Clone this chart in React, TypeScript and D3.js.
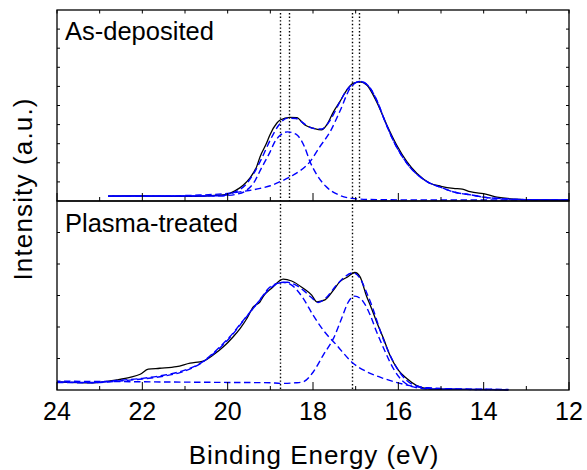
import React, { useEffect, useRef } from 'react';
import * as d3 from 'd3';

// Binding energy (eV) axis labels
const xTickLabels = [24, 22, 20, 18, 16, 14, 12];

// Panel labels
const panelTop = 'As-deposited';
const panelBottom = 'Plasma-treated';

// Vertical dotted reference lines (eV)
const topMarkers = [18.77, 18.56, 17.09, 16.92];
const bottomMarkers = [18.77, 17.09];

// ---- As-deposited (upper panel), [energy eV, intensity a.u.] ----
const topMeasured: [number, number][] = [
  [22.8, 0.26], [22.3, 0.27], [21.8, 0.26], [21.3, 0.24], [20.96, 0.24], [20.6, 0.25],
  [20.3, 0.29], [20.02, 0.35], [19.83, 0.53], [19.63, 0.84], [19.48, 1.2], [19.32, 1.8],
  [19.24, 2.32], [19.09, 3.02], [19.01, 3.46], [18.85, 4.07], [18.77, 4.24], [18.54, 4.38],
  [18.38, 4.36], [18.19, 3.98], [17.99, 3.81], [17.8, 3.72], [17.68, 3.98], [17.52, 4.67],
  [17.37, 5.2], [17.21, 5.81], [17.06, 6.16], [16.9, 6.24], [16.74, 6.07], [16.51, 5.2],
  [16.27, 3.98], [16.04, 2.93], [15.8, 2.06], [15.57, 1.45], [15.26, 0.93], [15.0, 0.77],
  [14.71, 0.66], [14.5, 0.62], [14.32, 0.49], [13.93, 0.35], [13.69, 0.2], [13.15, 0.09],
  [12.5, 0.06], [12.0, 0.05],
];
const topEnvelope: [number, number][] = [
  [22.8, 0.26], [21.0, 0.26], [20.3, 0.27], [20.0, 0.33], [19.8, 0.5], [19.6, 0.8],
  [19.4, 1.4], [19.2, 2.24], [19.0, 3.2], [18.8, 3.98], [18.6, 4.34], [18.4, 4.32],
  [18.2, 4.04], [18.0, 3.8], [17.8, 3.77], [17.6, 4.22], [17.4, 5.06], [17.2, 5.84],
  [17.0, 6.2], [16.9, 6.26], [16.7, 6.02], [16.5, 5.24], [16.3, 4.1], [16.1, 3.08],
  [15.9, 2.3], [15.7, 1.7], [15.5, 1.28], [15.3, 0.98], [15.0, 0.71], [14.7, 0.47],
  [14.3, 0.32], [14.0, 0.2], [13.5, 0.11], [13.0, 0.07], [12.0, 0.05],
];
const topPeakA: [number, number][] = [
  [22.8, 0.26], [21.0, 0.26], [20.3, 0.26], [20.0, 0.29], [19.8, 0.35], [19.6, 0.5],
  [19.4, 0.92], [19.2, 1.76], [19.0, 2.6], [18.9, 3.08], [18.77, 3.44], [18.6, 3.62],
  [18.4, 3.5], [18.2, 2.84], [18.07, 2.06], [17.9, 1.34], [17.7, 0.77], [17.4, 0.32],
  [17.1, 0.14], [16.7, 0.08], [16.0, 0.06], [12.0, 0.05],
];
const topPeakB: [number, number][] = [
  [22.8, 0.24], [21.5, 0.26], [20.8, 0.3], [20.0, 0.4], [19.5, 0.55], [19.24, 0.66],
  [19.0, 0.8], [18.77, 1.01], [18.46, 1.36], [18.07, 2.06], [17.84, 2.84], [17.6, 3.62],
  [17.37, 4.7], [17.13, 5.9], [16.9, 6.26], [16.7, 6.02], [16.5, 5.24], [16.3, 4.1],
  [16.1, 3.08], [15.9, 2.3], [15.7, 1.7], [15.5, 1.28], [15.3, 0.98], [15.0, 0.71],
  [14.7, 0.47], [14.3, 0.32], [14.0, 0.2], [13.5, 0.11], [13.0, 0.07], [12.0, 0.05],
];

// ---- Plasma-treated (lower panel), [energy eV, intensity a.u.] ----
const bottomMeasured: [number, number][] = [
  [24.0, 0.26], [23.15, 0.23], [22.6, 0.32], [22.29, 0.4], [22.05, 0.5], [21.86, 0.66],
  [21.59, 0.69], [21.2, 0.74], [20.88, 0.85], [20.57, 0.92], [20.34, 1.11], [20.1, 1.37],
  [19.87, 1.69], [19.71, 1.95], [19.55, 2.27], [19.4, 2.64], [19.24, 2.8], [19.16, 2.98],
  [18.97, 3.23], [18.7, 3.52], [18.5, 3.46], [18.23, 3.23], [18.03, 3.01], [17.91, 2.8],
  [17.72, 2.86], [17.52, 3.17], [17.37, 3.44], [17.2, 3.58], [17.02, 3.73], [16.9, 3.6],
  [16.74, 2.96], [16.66, 2.7], [16.51, 2.17], [16.35, 1.64], [16.2, 1.11], [16.0, 0.63],
  [15.81, 0.37], [15.57, 0.14], [15.26, 0.03], [14.4, 0.02], [13.42, 0.0],
];
const bottomEnvelope: [number, number][] = [
  [24.0, 0.26], [23.15, 0.24], [22.6, 0.3], [22.0, 0.37], [21.5, 0.47], [21.1, 0.59],
  [20.57, 0.91], [20.26, 1.27], [19.95, 1.69], [19.63, 2.22], [19.28, 2.8], [19.0, 3.28],
  [18.77, 3.4], [18.6, 3.42], [18.4, 3.33], [18.23, 3.17], [18.05, 2.95], [17.88, 2.78],
  [17.7, 2.92], [17.45, 3.33], [17.25, 3.6], [17.06, 3.72], [16.9, 3.55], [16.74, 3.08],
  [16.6, 2.6], [16.43, 1.9], [16.12, 0.9], [15.81, 0.31], [15.5, 0.1], [15.26, 0.05],
  [14.4, 0.02], [13.42, 0.01],
];
const bottomPeakA: [number, number][] = [
  [24.0, 0.24], [23.2, 0.23], [22.6, 0.28], [22.0, 0.35], [21.5, 0.44], [21.1, 0.56],
  [20.6, 0.87], [20.26, 1.24], [19.95, 1.66], [19.63, 2.2], [19.3, 2.76], [19.0, 3.23],
  [18.7, 3.42], [18.5, 3.33], [18.23, 2.91], [18.0, 2.38], [17.76, 1.9], [17.45, 1.43],
  [17.06, 0.85], [16.74, 0.58], [16.35, 0.37], [15.96, 0.21], [15.73, 0.14], [15.3, 0.07],
  [14.4, 0.03], [13.42, 0.02],
];
const bottomPeakB: [number, number][] = [
  [24.0, 0.28], [22.0, 0.26], [20.0, 0.24], [19.0, 0.23], [18.77, 0.21], [18.4, 0.23],
  [18.23, 0.26], [17.99, 0.58], [17.76, 1.11], [17.52, 1.64], [17.33, 2.27], [17.17, 2.8],
  [17.02, 2.98], [16.82, 2.8], [16.66, 2.38], [16.51, 1.85], [16.31, 1.22], [16.12, 0.69],
  [15.88, 0.26], [15.65, 0.1], [15.26, 0.03], [14.4, 0.02], [13.42, 0.01],
];

const W = 587;
const H = 470;
const L = 57;
const R = 569;
const T = 10;
const M = 201;
const B = 390;
const BLUE = '#0000ff';
const FONT = '"Liberation Sans", Arial, Helvetica, sans-serif';

export default function App() {
  const ref = useRef<SVGSVGElement>(null);

  useEffect(() => {
    const svg = d3.select(ref.current);
    svg.selectAll('*').remove();

    const x = d3.scaleLinear().domain([24, 12]).range([L, R]);
    const yTop = d3.scaleLinear().domain([0, 10]).range([M, T]);
    const yBot = d3.scaleLinear().domain([0, 6]).range([B, M]);

    const panels = [
      { y: yTop, top: T, bottom: M, measured: topMeasured, env: topEnvelope, a: topPeakA, b: topPeakB, markers: topMarkers, label: panelTop, labelY: 40, yTickCount: 10 },
      { y: yBot, top: M, bottom: B, measured: bottomMeasured, env: bottomEnvelope, a: bottomPeakA, b: bottomPeakB, markers: bottomMarkers, label: panelBottom, labelY: 231.7, yTickCount: 6 },
    ];

    panels.forEach((p, i) => {
      const g = svg.append('g');
      // dotted markers
      g.selectAll('line.marker')
        .data(p.markers)
        .enter()
        .append('line')
        .attr('x1', (d) => Math.round(x(d)) + 0.5)
        .attr('x2', (d) => Math.round(x(d)) + 0.5)
        .attr('y1', p.top + 3)
        .attr('y2', p.bottom)
        .attr('stroke', '#000')
        .attr('stroke-width', 1.4)
        .attr('stroke-dasharray', '1.4,2.2');

      const line = d3
        .line<[number, number]>()
        .x((d) => x(d[0]))
        .y((d) => p.y(d[1]))
        .curve(d3.curveMonotoneX);

      g.append('path')
        .attr('d', line(p.measured))
        .attr('fill', 'none')
        .attr('stroke', '#000')
        .attr('stroke-width', 1.3);

      [p.a, p.b, p.env].forEach((series, k) => {
        g.append('path')
          .attr('d', line(series))
          .attr('fill', 'none')
          .attr('stroke', BLUE)
          .attr('stroke-width', 1.4)
          .attr('stroke-dasharray', '6.5,3.5')
          .attr('stroke-dashoffset', k * 3);
      });

      // y ticks (inward, both sides)
      const yt = p.y.ticks(p.yTickCount).filter((v) => p.y(v) > p.top + 1 && p.y(v) < p.bottom - 1);
      yt.forEach((v) => {
        g.append('line').attr('x1', L).attr('x2', L + 3).attr('y1', p.y(v)).attr('y2', p.y(v)).attr('stroke', '#000').attr('stroke-width', 1);
        g.append('line').attr('x1', R).attr('x2', R - 3).attr('y1', p.y(v)).attr('y2', p.y(v)).attr('stroke', '#000').attr('stroke-width', 1);
      });

      // x ticks at panel bottom (major / minor)
      x.ticks(12).forEach((e) => {
        const major = Math.round(e) % 2 === 0;
        g.append('line')
          .attr('x1', x(e)).attr('x2', x(e))
          .attr('y1', p.bottom).attr('y2', p.bottom - (major ? 8 : 4))
          .attr('stroke', '#000').attr('stroke-width', 1);
        if (i === 0) {
          g.append('line')
            .attr('x1', x(e)).attr('x2', x(e))
            .attr('y1', p.top).attr('y2', p.top + 3.5)
            .attr('stroke', '#000').attr('stroke-width', 1);
        }
      });

      g.append('rect')
        .attr('x', L).attr('y', p.top)
        .attr('width', R - L).attr('height', p.bottom - p.top)
        .attr('fill', 'none').attr('stroke', '#000').attr('stroke-width', 1.3);

      g.append('text')
        .attr('x', 65)
        .attr('y', p.labelY)
        .attr('font-family', FONT)
        .attr('font-size', 25.5)
        .attr('fill', '#000')
        .text(p.label);
    });

    // x tick labels
    svg.selectAll('text.xt')
      .data(xTickLabels)
      .enter()
      .append('text')
      .attr('x', (d) => x(d))
      .attr('y', 419.5)
      .attr('text-anchor', 'middle')
      .attr('font-family', FONT)
      .attr('font-size', 25)
      .attr('fill', '#000')
      .text((d) => String(d));

    svg.append('text')
      .attr('x', (L + R) / 2 + 1)
      .attr('y', 463.5)
      .attr('text-anchor', 'middle')
      .attr('font-family', FONT)
      .attr('font-size', 26)
      .attr('letter-spacing', 0.95)
      .attr('fill', '#000')
      .text('Binding Energy (eV)');

    svg.append('text')
      .attr('transform', 'translate(31.5,189) rotate(-90)')
      .attr('text-anchor', 'middle')
      .attr('font-family', FONT)
      .attr('font-size', 26)
      .attr('letter-spacing', 1.15)
      .attr('fill', '#000')
      .text('Intensity (a.u.)');
  }, []);

  return (
    <svg
      ref={ref}
      width={W}
      height={H}
      style={{ position: 'absolute', left: 0, top: 0, background: '#fff' }}
    />
  );
}
